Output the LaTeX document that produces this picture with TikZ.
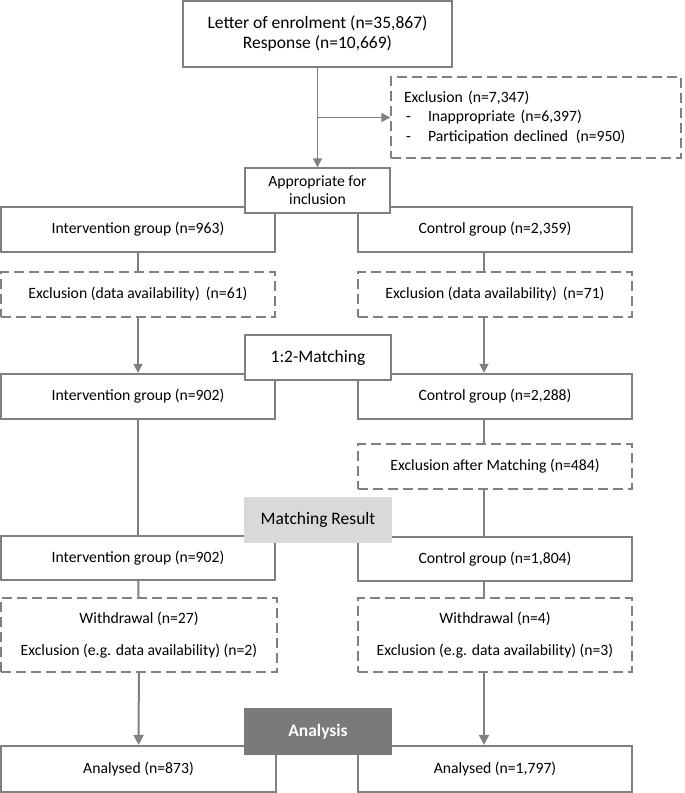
\documentclass[tikz,border=0pt]{standalone}
\usepackage{fontspec}
\setmainfont{Carlito}
\usetikzlibrary{arrows.meta}
\definecolor{linegray}{RGB}{128,128,128}
\definecolor{resultgray}{RGB}{217,217,217}
\definecolor{analysisgray}{RGB}{122,122,122}
\newcommand{\bigfont}{\fontsize{17.5}{20}\selectfont}
\newcommand{\bodyfont}{\fontsize{15.7}{18}\selectfont}

\begin{document}
\begin{tikzpicture}[x=1pt,y=-1pt,
  box/.style={draw=linegray,line width=1.4pt,fill=white,minimum width=274pt,
    minimum height=45pt,inner sep=0pt,align=center,font=\bodyfont},
  heavybox/.style={box,line width=2.2pt},
  dashbox/.style={box,dash pattern=on 10pt off 5pt},
  heavydashbox/.style={heavybox,dash pattern=on 10pt off 5pt},
  stagebox/.style={draw=none,minimum width=148pt,minimum height=46pt,inner sep=0pt,font=\bigfont},
  link/.style={draw=linegray,line width=1.4pt},
  heavylink/.style={draw=linegray,line width=2pt},
  arr/.style={link,-{Triangle[width=9pt,length=9pt]}},
  heavyarr/.style={heavylink,-{Triangle[width=10pt,length=10pt]}}]
\useasboundingbox (0,0) rectangle (685,793);
\def\lx{138}
\def\rx{495}
\def\off{11pt}

% enrolment
\node[box,minimum width=269pt,minimum height=66pt,font=\bigfont] (letter) at (317.5,34)
  {Letter of enrolment (n=35,867)\\Response (n=10,669)};
\node[dashbox,minimum width=290pt,minimum height=81pt,align=left,text width=264pt,
  font=\fontsize{15.7}{19.5}\selectfont] (excl) at (536,117.5)
  {Exclusion (n=7,347)\\
   \makebox[24pt][l]{\hspace{2pt}-}Inappropriate (n=6,397)\\
   \makebox[24pt][l]{\hspace{2pt}-}Participation declined\, (n=950)};

% groups before matching
\node[box] (int1) at (\lx,229.5) {Intervention group (n=963)};
\node[box] (ctl1) at (\rx,229.5) {Control group (n=2,359)};
\node[dashbox] (intx1) at (\lx,294.5) {Exclusion (data availability) \,(n=61)};
\node[dashbox] (ctlx1) at (\rx,294.5) {Exclusion (data availability) \,(n=71)};
\node[heavybox] (int2) at (\lx,396.5) {Intervention group (n=902)};
\node[heavybox] (ctl2) at (\rx,396.5) {Control group (n=2,288)};
\node[heavydashbox] (ctlx2) at (\rx,466.5) {Exclusion after Matching (n=484)};

% after matching
\node[heavybox,minimum height=44pt] (int3) at (\lx,558) {Intervention group (n=902)};
\node[heavybox,minimum height=44pt] (ctl3) at (\rx,559) {Control group (n=1,804)};
\node[heavydashbox,minimum width=276pt,minimum height=74pt,
  font=\fontsize{15.7}{32}\selectfont] (intw) at (139,635)
  {Withdrawal (n=27)\\Exclusion (e.g. data availability) (n=2)};
\node[heavydashbox,minimum height=74pt,
  font=\fontsize{15.7}{32}\selectfont] (ctlw) at (\rx,635)
  {Withdrawal (n=4)\\Exclusion (e.g. data availability) (n=3)};
\node[heavybox,minimum width=275pt,minimum height=46pt] (int4) at (138.5,769) {Analysed (n=873)};
\node[heavybox,minimum height=46pt] (ctl4) at (\rx,769) {Analysed (n=1,797)};

% stage labels on top of the boxes
\node[box,minimum width=145pt,font=\bodyfont] (appr) at (317.5,190.5) {Appropriate for\\inclusion};
\node[heavybox,minimum width=146pt,font=\bigfont] (match) at (318,357.5) {1:2-Matching};
\node[stagebox,fill=resultgray] (result) at (318,520) {Matching Result};
\node[stagebox,fill=analysisgray,text=white,minimum height=47pt,font=\bigfont\bfseries]
  (analysis) at (318,731.5) {Analysis};

% connectors
\coordinate (split) at (letter.south |- excl.west);
\draw[arr] (letter) -- (appr);
\draw[arr] (split) -- (excl.west);
\draw[link] (int1) -- (intx1);
\draw[arr] (intx1) -- (int2);
\draw[link] ([xshift=-\off]ctl1.south) -- ([xshift=-\off]ctlx1.north);
\draw[arr] ([xshift=-\off]ctlx1.south) -- ([xshift=-\off]ctl2.north);
\draw[heavylink] (int2) -- (int3);
\draw[heavylink] ([xshift=-\off]ctl2.south) -- ([xshift=-\off]ctlx2.north);
\draw[heavylink] ([xshift=-\off]ctlx2.south) -- ([xshift=-\off]ctl3.north);
\draw[heavylink] (int3) -- (intw);
\draw[heavylink] ([xshift=-\off]ctl3.south) -- ([xshift=-\off]ctlw.north);
\draw[heavyarr] (intw) -- (int4);
\draw[heavyarr] ([xshift=-\off]ctlw.south) -- ([xshift=-\off]ctl4.north);
\end{tikzpicture}
\end{document}
